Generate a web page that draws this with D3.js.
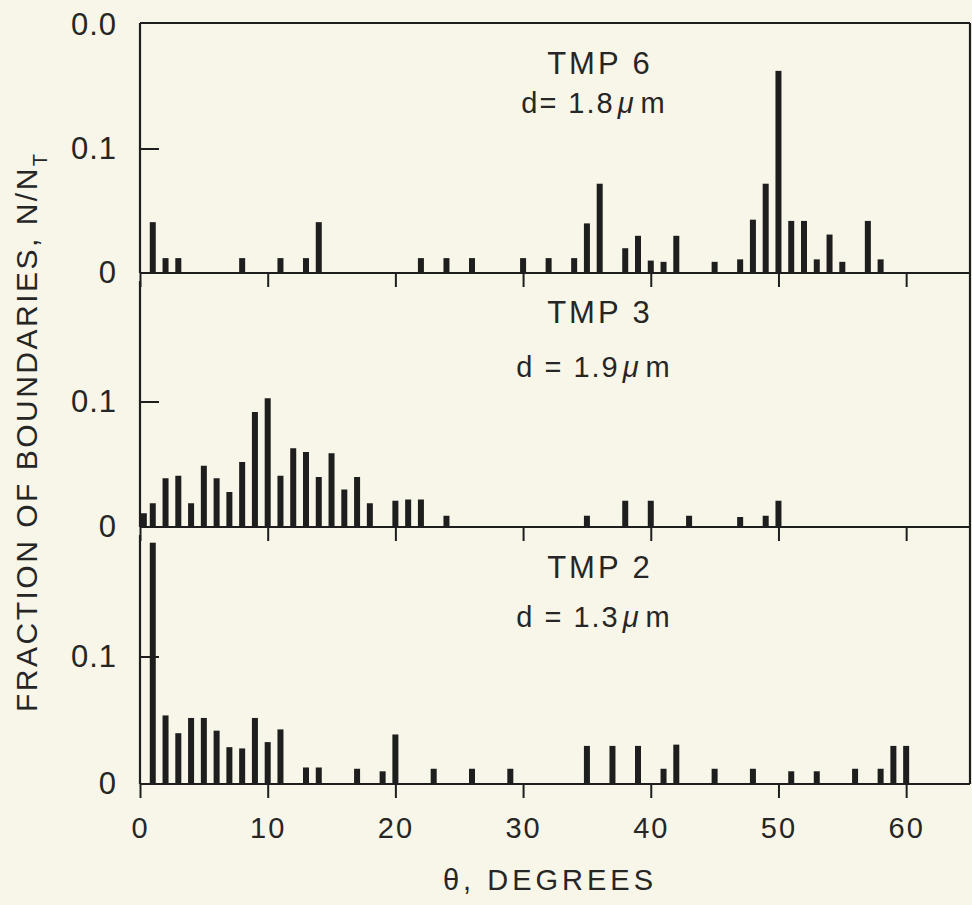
<!DOCTYPE html>
<html>
<head>
<meta charset="utf-8">
<script src="https://cdn.jsdelivr.net/npm/d3@7"></script>
<style>
  html, body { margin: 0; padding: 0; background: #f8f6e8; }
  svg { display: block; }
  text { font-family: "Liberation Sans", Arial, sans-serif; fill: #262626; }
</style>
</head>
<body>
<svg id="chart" width="972" height="905"></svg>
<script>
// ---- data ----
const tmp6Angles = [1, 2, 3, 8, 11, 13, 14, 22, 24, 26, 30, 32, 34, 35, 36, 38, 39, 40, 41, 42, 45, 47, 48, 49, 50, 51, 52, 53, 54, 55, 57, 58];
const tmp6Values = [0.041, 0.012, 0.012, 0.012, 0.012, 0.012, 0.041, 0.012, 0.012, 0.012, 0.012, 0.012, 0.012, 0.040, 0.072, 0.020, 0.030, 0.010, 0.009, 0.030, 0.009, 0.011, 0.043, 0.072, 0.163, 0.042, 0.042, 0.011, 0.031, 0.009, 0.042, 0.011];

const tmp3Angles = [0.3, 1, 2, 3, 4, 5, 6, 7, 8, 9, 10, 11, 12, 13, 14, 15, 16, 17, 18, 20, 21, 22, 24, 35, 38, 40, 43, 47, 49, 50];
const tmp3Values = [0.011, 0.019, 0.039, 0.041, 0.019, 0.049, 0.039, 0.028, 0.052, 0.092, 0.103, 0.041, 0.063, 0.060, 0.040, 0.059, 0.030, 0.040, 0.019, 0.021, 0.022, 0.022, 0.009, 0.009, 0.021, 0.021, 0.009, 0.008, 0.009, 0.021];

const tmp2Angles = [1, 2, 3, 4, 5, 6, 7, 8, 9, 10, 11, 13, 14, 17, 19, 20, 23, 26, 29, 35, 37, 39, 41, 42, 45, 48, 51, 53, 56, 58, 59, 60];
const tmp2Values = [0.190, 0.054, 0.040, 0.052, 0.052, 0.042, 0.029, 0.028, 0.052, 0.033, 0.043, 0.013, 0.013, 0.012, 0.010, 0.039, 0.012, 0.012, 0.012, 0.030, 0.030, 0.030, 0.012, 0.031, 0.012, 0.012, 0.010, 0.010, 0.012, 0.012, 0.030, 0.030];

const panelNames = ["TMP 6", "TMP 3", "TMP 2"];
const panelSizes = ["d= 1.8", "d = 1.9", "d = 1.3"];
const xTickValues = [0, 10, 20, 30, 40, 50, 60];
const xTickLabels = ["0", "10", "20", "30", "40", "50", "60"];
const yTickValuesTop = [0, 0.1, 0.2];
const yTickLabelsTop = ["0", "0.1", "0.0"];
const yTickValuesOther = [0, 0.1];
const yTickLabelsOther = ["0", "0.1"];
const xTitle = "θ, DEGREES";
const yTitle = "FRACTION OF BOUNDARIES, N/N";
const yTitleSub = "T";

// ---- layout ----
const ink = "#1e1e1e";
const svg = d3.select("#chart");
svg.append("rect").attr("width", 972).attr("height", 905).attr("fill", "#f8f6e8");

const x = d3.scaleLinear().domain([0, 65]).range([140, 970]);
const panelTopY = [25, 277, 530];
const panelBaseY = [273, 527, 784];
const axisStartY = [23, 281, 535];
const nameY = [74, 323, 578];
const sizeY = [113, 377, 627];

const panels = [
  { name: panelNames[0], size: panelSizes[0], angles: tmp6Angles, values: tmp6Values, ticks: yTickValuesTop, labels: yTickLabelsTop },
  { name: panelNames[1], size: panelSizes[1], angles: tmp3Angles, values: tmp3Values, ticks: yTickValuesOther, labels: yTickLabelsOther },
  { name: panelNames[2], size: panelSizes[2], angles: tmp2Angles, values: tmp2Values, ticks: yTickValuesOther, labels: yTickLabelsOther }
];

const barW = 6;

panels.forEach((p, i) => {
  const y = d3.scaleLinear().domain([0, 0.2]).range([panelBaseY[i], panelTopY[i]]);
  const g = svg.append("g");
  const data = p.angles.map((a, k) => ({ a, v: p.values[k] }));

  // bars
  g.selectAll("rect.bar").data(data).join("rect")
    .attr("class", "bar")
    .attr("x", d => x(d.a) - barW / 2)
    .attr("width", barW)
    .attr("y", d => y(d.v))
    .attr("height", d => y(0) - y(d.v))
    .attr("fill", ink);

  // baseline
  g.append("line")
    .attr("x1", x(0)).attr("x2", x(65))
    .attr("y1", y(0)).attr("y2", y(0))
    .attr("stroke", ink).attr("stroke-width", 2.2);

  // left axis line
  g.append("line")
    .attr("x1", x(0)).attr("x2", x(0))
    .attr("y1", axisStartY[i]).attr("y2", y(0))
    .attr("stroke", ink).attr("stroke-width", 2.2);

  // x ticks (downward)
  const xAxis = d3.axisBottom(x).tickValues(xTickValues).tickSize(14).tickPadding(19)
    .tickFormat((d, k) => i === 2 ? xTickLabels[k] : "");
  const xa = g.append("g").attr("transform", `translate(0,${y(0)})`).call(xAxis);
  xa.select(".domain").remove();
  xa.selectAll(".tick line").attr("stroke", ink).attr("stroke-width", 2);
  xa.selectAll(".tick text").attr("font-size", 29).attr("letter-spacing", 2)
    .attr("fill", "#262626").style("font-family", '"Liberation Sans", Arial, sans-serif');

  // y labels
  const yAxis = d3.axisLeft(y).tickValues(p.ticks).tickSize(0).tickPadding(23)
    .tickFormat((d, k) => p.labels[k]);
  const ya = g.append("g").attr("transform", `translate(${x(0)},0)`).call(yAxis);
  ya.select(".domain").remove();
  ya.selectAll(".tick text").attr("font-size", 31).attr("letter-spacing", 1)
    .attr("fill", "#262626").style("font-family", '"Liberation Sans", Arial, sans-serif');

  // inward y tick at 0.1
  g.append("line")
    .attr("x1", x(0)).attr("x2", x(0) + 19)
    .attr("y1", y(0.1)).attr("y2", y(0.1))
    .attr("stroke", ink).attr("stroke-width", 2);

  // panel labels
  g.append("text").attr("x", 600).attr("y", nameY[i])
    .attr("text-anchor", "middle").attr("font-size", 31).attr("letter-spacing", 3)
    .text(p.name);
  const t = g.append("text").attr("x", 594).attr("y", sizeY[i])
    .attr("text-anchor", "middle").attr("font-size", 29).attr("letter-spacing", 2);
  t.append("tspan").text(p.size);
  t.append("tspan").attr("font-style", "italic").attr("dx", 3).text("μ");
  t.append("tspan").attr("dx", 5).text("m");
});

// frame: top and right
svg.append("line").attr("x1", x(0)).attr("x2", x(65)).attr("y1", 23).attr("y2", 23)
  .attr("stroke", ink).attr("stroke-width", 2.2);
svg.append("line").attr("x1", x(65)).attr("x2", x(65)).attr("y1", 23).attr("y2", 784)
  .attr("stroke", ink).attr("stroke-width", 2.2);

// axis titles
svg.append("text").attr("x", 550).attr("y", 890).attr("text-anchor", "middle")
  .attr("font-size", 29).attr("letter-spacing", 4).text(xTitle);

const yt = svg.append("text")
  .attr("transform", "translate(37,712) rotate(-90)")
  .attr("text-anchor", "start").attr("font-size", 30).attr("letter-spacing", 2.5);
yt.append("tspan").text(yTitle);
yt.append("tspan").attr("font-size", 20).attr("dy", 10).text(yTitleSub);
</script>
</body>
</html>
